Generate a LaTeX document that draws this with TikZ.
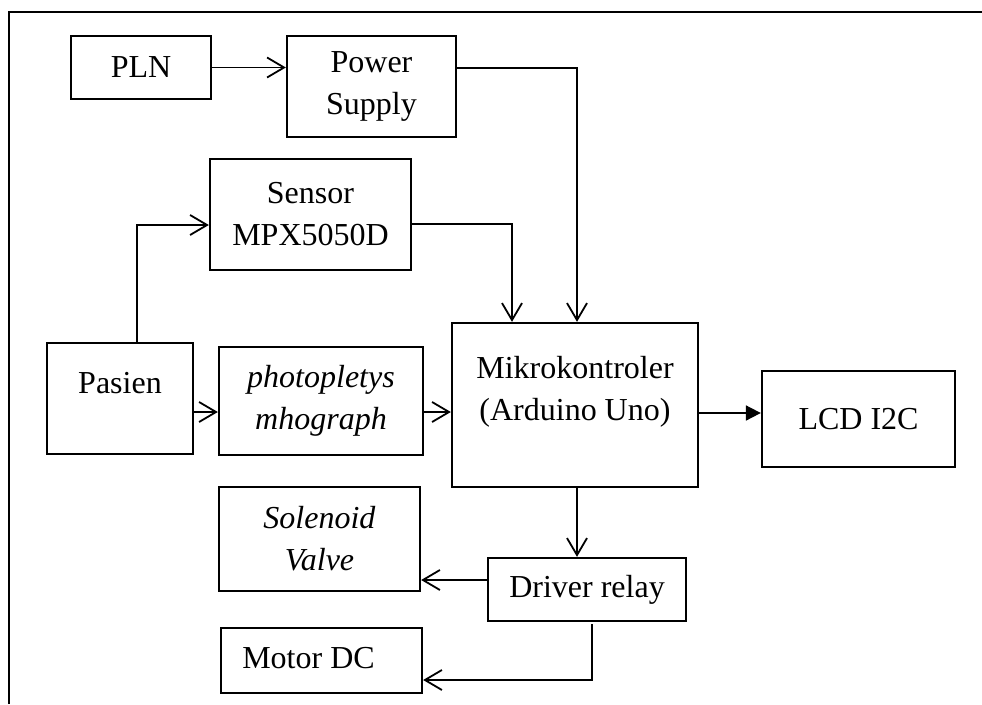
\documentclass[tikz,border=0pt]{standalone}
\usepackage{fontspec}
\setmainfont{Liberation Serif}
\usetikzlibrary{arrows.meta}
\begin{document}
\begin{tikzpicture}[x=1pt,y=-1pt,
  txt/.style={font=\fontsize{32}{42}\selectfont, align=center},
  blk/.style={draw, line width=2.3pt, inner sep=0pt, txt},
  lbl/.style={inner sep=0pt, txt},
  conn/.style={line width=1.8pt, -{Straight Barb[length=17pt,width=20pt]}},
  fconn/.style={line width=1.8pt, -{Triangle[length=15pt,width=15pt]}}
]
\useasboundingbox (0,0) rectangle (982,704);
\draw[line width=1.6pt] (9,704) -- (9,12) -- (982,12);

\node[blk, minimum width=140pt, minimum height=63pt] (pln) at (141,67.5) {PLN};
\node[blk, minimum width=169pt, minimum height=101pt] (ps) at (371.5,86.5) {Power\\Supply};
\node[blk, minimum width=201pt, minimum height=111pt] (sen) at (310.5,214.5) {Sensor\\MPX5050D};
\node[blk, minimum width=146pt, minimum height=111pt,
      label={[lbl, name=pastxt, yshift=15pt]center:Pasien}] (pas) at (120,398.5) {};
\node[blk, minimum width=204pt, minimum height=108pt] (ph) at (321,401) {\textit{photopletys}\\\textit{mhograph}};
\node[blk, minimum width=246pt, minimum height=164pt,
      label={[lbl, name=mktxt, yshift=13.5pt]center:Mikrokontroler\\(Arduino Uno)}] (mk) at (575,405) {};
\node[blk, minimum width=193pt, minimum height=96pt] (lcd) at (858.5,419) {LCD I2C};
\node[blk, minimum width=201pt, minimum height=104pt] (sol) at (319.5,539) {\textit{Solenoid}\\\textit{Valve}};
\node[blk, minimum width=198pt, minimum height=63pt] (drv) at (587,589.5) {Driver relay};
\node[blk, minimum width=201pt, minimum height=65pt,
      label={[lbl, name=mottxt, xshift=-13pt, yshift=2pt]center:Motor DC}] (mot) at (321.5,660.5) {};

\draw[conn] (pln.east) -- (pln.east -| ps.west);
\draw[conn] ([yshift=-0.5pt]pln.east -| ps.east) -| ([xshift=2pt]mk.north);
\draw[conn] ([yshift=-9.5pt]sen.east) -| ([xshift=-63pt]mk.north);
\draw[conn] ([xshift=17pt]pas.north) |- ([yshift=-10.5pt]sen.west);
\draw[conn] ([yshift=-13.5pt]pas.east) -- ([yshift=-13.5pt]pas.east -| ph.west);
\draw[conn] ([yshift=-11pt]ph.east) -- ([yshift=-11pt]ph.east -| mk.west);
\draw[fconn] ([yshift=-8pt]mk.east) -- ([yshift=-8pt]mk.east -| lcd.west);
\draw[conn] ([xshift=2pt]mk.south) -- ([xshift=2pt]mk.south |- drv.north);
\draw[conn] ([yshift=9.5pt]drv.west) -- ([yshift=9.5pt]drv.west -| sol.east);
\draw[conn] ([xshift=5pt,yshift=-2pt]drv.south) |- ([yshift=-19.5pt]mot.east);
\end{tikzpicture}
\end{document}
